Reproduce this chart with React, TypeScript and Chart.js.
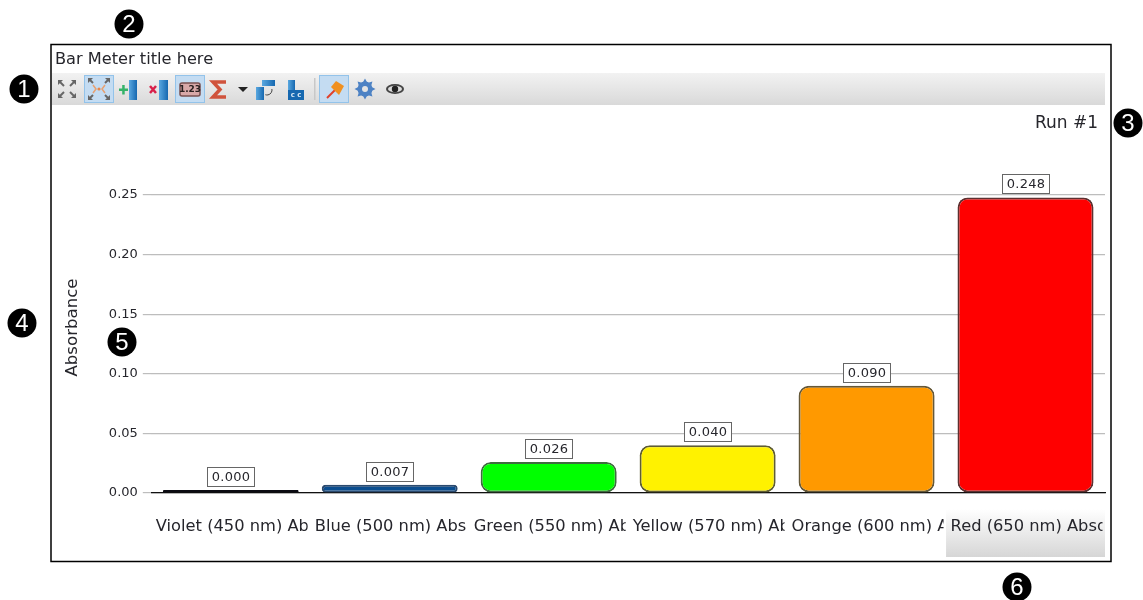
import React, { useEffect, useRef } from "react";
import { Chart, registerables } from "chart.js";

Chart.register(...registerables);

const categories = [
  "Violet (450 nm) Absorbance",
  "Blue (500 nm) Absorbance",
  "Green (550 nm) Absorbance",
  "Yellow (570 nm) Absorbance",
  "Orange (600 nm) Absorbance",
  "Red (650 nm) Absorbance",
];
const absorbance = [0.0, 0.007, 0.026, 0.04, 0.09, 0.248];
const barColors = ["#0b0b12", "#0a4d8f", "#00ff00", "#fff200", "#ff9900", "#ff0000"];
const edgeColors = ["#0b0b12", "#2b4a6e", "#3f6b3f", "#5f5d33", "#655838", "#5e3030"];
const chartTitle = "Bar Meter title here";
const runLabel = "Run #1";
const yAxisTitle = "Absorbance";
const callouts = ["1", "2", "3", "4", "5", "6"];

const FONT = '"DejaVu Sans", sans-serif';
const INK = "#26262c";

function rr(c: CanvasRenderingContext2D, x: number, y: number, w: number, h: number, r: number) {
  c.beginPath();
  c.roundRect(x, y, w, h, r);
}

function arrows(c: CanvasRenderingContext2D, cx: number, cy: number, d0: number, d1: number, color: string) {
  c.strokeStyle = color;
  c.fillStyle = color;
  c.lineWidth = 2;
  for (const [sx, sy] of [[-1, -1], [1, -1], [-1, 1], [1, 1]]) {
    c.beginPath();
    c.moveTo(cx + sx * d0, cy + sy * d0);
    c.lineTo(cx + sx * d1, cy + sy * d1);
    c.stroke();
    c.beginPath();
    c.moveTo(cx + sx * (d1 + 2), cy + sy * (d1 + 2));
    c.lineTo(cx + sx * (d1 - 3), cy + sy * (d1 + 2));
    c.lineTo(cx + sx * (d1 + 2), cy + sy * (d1 - 3));
    c.closePath();
    c.fill();
  }
}

function blueBar(c: CanvasRenderingContext2D, x: number, y: number, w: number, h: number) {
  const g = c.createLinearGradient(x, y, x + w, y);
  g.addColorStop(0, "#5aa8e0");
  g.addColorStop(1, "#1668b0");
  c.fillStyle = g;
  c.fillRect(x, y, w, h);
}

function pressed(c: CanvasRenderingContext2D, x: number, w: number) {
  c.fillStyle = "#c4dcf2";
  c.fillRect(x, 75, w, 28);
  c.strokeStyle = "#93c3ea";
  c.lineWidth = 1;
  c.strokeRect(x + 0.5, 75.5, w - 1, 27);
}

function drawToolbar(c: CanvasRenderingContext2D) {
  const g = c.createLinearGradient(0, 73, 0, 105);
  g.addColorStop(0, "#f2f2f2");
  g.addColorStop(1, "#d9d9d9");
  c.fillStyle = g;
  c.fillRect(52, 73, 1053, 32);

  pressed(c, 84, 30);
  pressed(c, 175, 30);
  pressed(c, 319, 30);

  arrows(c, 67, 89, 3, 7, "#666");
  arrows(c, 99, 89, 6, 9, "#666");
  c.fillStyle = "#e8864a";
  c.beginPath();
  c.arc(99, 89, 1.6, 0, 7);
  c.fill();
  c.strokeStyle = "#e8a070";
  c.lineWidth = 1.5;
  c.beginPath();
  c.moveTo(93, 85);
  c.lineTo(96, 89);
  c.lineTo(93, 93);
  c.moveTo(105, 85);
  c.lineTo(102, 89);
  c.lineTo(105, 93);
  c.stroke();

  c.fillStyle = "#35b36a";
  c.fillRect(119, 88.5, 9, 2.5);
  c.fillRect(122.2, 85, 2.5, 9.5);
  blueBar(c, 129, 80, 8, 20);

  c.strokeStyle = "#d8204a";
  c.lineWidth = 2.5;
  c.beginPath();
  c.moveTo(150, 86);
  c.lineTo(156, 93);
  c.moveTo(156, 86);
  c.lineTo(150, 93);
  c.stroke();
  blueBar(c, 159, 80, 9, 20);

  c.fillStyle = "#d8a8a8";
  rr(c, 180, 83, 20, 13, 2);
  c.fill();
  c.strokeStyle = "#7a5050";
  c.lineWidth = 1.5;
  c.stroke();
  c.fillStyle = "#2a2020";
  c.font = `bold 9px ${FONT}`;
  c.textAlign = "center";
  c.textBaseline = "middle";
  c.fillText("1.23", 190, 90);

  c.strokeStyle = "#d0533c";
  c.lineWidth = 3.5;
  c.beginPath();
  c.moveTo(226, 82);
  c.lineTo(213, 82);
  c.lineTo(220, 89.5);
  c.lineTo(213, 97);
  c.lineTo(226, 97);
  c.stroke();

  c.fillStyle = "#222";
  c.beginPath();
  c.moveTo(238, 87);
  c.lineTo(248, 87);
  c.lineTo(243, 92);
  c.closePath();
  c.fill();

  blueBar(c, 256, 87, 8, 13);
  blueBar(c, 262, 80, 13, 6);
  c.strokeStyle = "#444";
  c.lineWidth = 1;
  c.beginPath();
  c.arc(267, 90, 5, -0.2, 1.9);
  c.stroke();

  blueBar(c, 288, 80, 7, 20);
  c.fillStyle = "#1668b0";
  c.fillRect(288, 90, 16, 10);
  c.fillStyle = "#d8e8f4";
  c.font = `bold 7px ${FONT}`;
  c.fillText("c c", 296, 95);

  c.fillStyle = "#c8c8c8";
  c.fillRect(314, 78, 1.5, 22);

  c.strokeStyle = "#e0402a";
  c.lineWidth = 2;
  c.beginPath();
  c.moveTo(327, 98);
  c.lineTo(335, 90);
  c.stroke();
  c.fillStyle = "#f09020";
  c.beginPath();
  c.moveTo(331, 87);
  c.lineTo(336, 81);
  c.lineTo(344, 86);
  c.lineTo(339, 95);
  c.closePath();
  c.fill();

  c.fillStyle = "#4d82c4";
  c.beginPath();
  for (let i = 0; i < 8; i++) {
    const a = (i * Math.PI) / 4;
    c.moveTo(365 + Math.cos(a - 0.3) * 7, 89 + Math.sin(a - 0.3) * 7);
    c.lineTo(365 + Math.cos(a) * 10.5, 89 + Math.sin(a) * 10.5);
    c.lineTo(365 + Math.cos(a + 0.3) * 7, 89 + Math.sin(a + 0.3) * 7);
  }
  c.fill();
  c.beginPath();
  c.arc(365, 89, 7.5, 0, 7);
  c.fill();
  c.fillStyle = "#e4e4e4";
  c.beginPath();
  c.arc(365, 89, 3, 0, 7);
  c.fill();

  c.fillStyle = "#444";
  c.beginPath();
  c.ellipse(395, 89, 9, 5, 0, 0, 7);
  c.fill();
  c.fillStyle = "#ddd";
  c.beginPath();
  c.ellipse(395, 89, 7, 3.2, 0, 0, 7);
  c.fill();
  c.fillStyle = "#222";
  c.beginPath();
  c.arc(395, 89, 3.2, 0, 7);
  c.fill();
}

const calloutSpots = [
  [24, 89],
  [129, 24],
  [1128, 123],
  [22, 323],
  [122, 342],
  [1017, 587],
];

const framePlugin = {
  id: "frame",
  beforeDraw(chart: any) {
    const c: CanvasRenderingContext2D = chart.ctx;
    const x = chart.scales.x;
    c.save();
    c.fillStyle = "#fff";
    c.fillRect(0, 0, 1143, 600);
    c.strokeStyle = "#000";
    c.lineWidth = 1.5;
    c.strokeRect(51, 44.5, 1060, 517);
    drawToolbar(c);

    const band = x.getPixelForTick(1) - x.getPixelForTick(0);
    const hx = x.getPixelForTick(5) - band / 2;
    const g = c.createLinearGradient(0, 509, 0, 557);
    g.addColorStop(0, "#ffffff");
    g.addColorStop(1, "#d6d6d6");
    c.fillStyle = g;
    c.fillRect(hx, 509, band, 48);

    c.fillStyle = INK;
    c.font = `16.2px ${FONT}`;
    c.textBaseline = "middle";
    c.textAlign = "left";
    c.fillText(chartTitle, 55, 60);
    c.font = `17px ${FONT}`;
    c.textAlign = "right";
    c.fillText(runLabel, 1098, 124);

    c.textAlign = "left";
    c.font = `16.3px ${FONT}`;
    categories.forEach((name, i) => {
      const left = x.getPixelForTick(i) - band / 2;
      c.save();
      c.beginPath();
      c.rect(left + 4, 510, band - 6.5, 40);
      c.clip();
      c.fillStyle = INK;
      c.fillText(name, left + 4.5, 527);
      c.restore();
    });
    c.restore();
  },
  afterDatasetsDraw(chart: any) {
    const c: CanvasRenderingContext2D = chart.ctx;
    const meta = chart.getDatasetMeta(0);
    c.save();
    absorbance.forEach((v, i) => {
      const el = meta.data[i];
      const w = 47;
      const h = 19;
      const bx = Math.round(el.x - w / 2) + 0.5;
      const by = Math.round(el.y - 4 - h) + 0.5;
      c.fillStyle = "#fff";
      c.fillRect(bx, by, w, h);
      c.strokeStyle = "#666";
      c.lineWidth = 1;
      c.strokeRect(bx, by, w, h);
      c.fillStyle = INK;
      c.font = `13px ${FONT}`;
      c.textAlign = "center";
      c.textBaseline = "middle";
      (c as any).letterSpacing = "0.3px";
      c.fillText(v.toFixed(3), bx + w / 2, by + h / 2 + 0.5);
      (c as any).letterSpacing = "0px";
    });
    c.restore();
  },
  afterDraw(chart: any) {
    const c: CanvasRenderingContext2D = chart.ctx;
    c.save();
    callouts.forEach((t, i) => {
      const [x, y] = calloutSpots[i];
      c.fillStyle = "#000";
      c.beginPath();
      c.arc(x, y, 14.5, 0, 7);
      c.fill();
      c.fillStyle = "#fff";
      c.font = '24px "Liberation Sans Narrow", "Liberation Sans", sans-serif';
      c.textAlign = "center";
      c.textBaseline = "middle";
      c.fillText(t, x, y + 1);
    });
    c.restore();
  },
};

export default function App() {
  const ref = useRef<HTMLCanvasElement | null>(null);
  useEffect(() => {
    document.body.style.margin = "0";
    const chart = new Chart(ref.current!, {
      type: "bar",
      data: {
        labels: categories,
        datasets: [
          {
            label: yAxisTitle,
            data: absorbance,
            backgroundColor: barColors,
            borderColor: edgeColors,
            borderWidth: 2,
            borderRadius: 10,
            borderSkipped: false,
            minBarLength: 3,
            categoryPercentage: 1,
            barPercentage: 0.856,
          },
        ],
      },
      options: {
        responsive: false,
        animation: false,
        devicePixelRatio: 1,
        events: [],
        layout: { padding: { left: 63, right: 38, top: 162, bottom: 107 } },
        plugins: { legend: { display: false }, tooltip: { enabled: false }, title: { display: false } },
        scales: {
          x: {
            offset: true,
            grid: { display: false },
            border: { color: "#111", width: 1.2 },
            ticks: { display: false },
            afterFit: (s: any) => {
              s.height = 0;
            },
          },
          y: {
            min: 0,
            max: 0.2777,
            afterFit: (s: any) => {
              s.width = 88.3;
            },
            grid: { color: "#bdbdbd", lineWidth: 1.2, tickLength: 8.5, drawOnChartArea: true },
            border: { display: false },
            title: {
              display: true,
              text: yAxisTitle,
              color: INK,
              font: { family: FONT, size: 16.6 },
              padding: 0,
            },
            ticks: {
              stepSize: 0.05,
              includeBounds: false,
              padding: 5,
              color: INK,
              font: { family: FONT, size: 13 },
              callback: (v: any) => Number(v).toFixed(2),
            },
          },
        },
      },
      plugins: [framePlugin],
    } as any);
    return () => chart.destroy();
  }, []);
  return <canvas ref={ref} width={1143} height={600} style={{ display: "block" }} />;
}
